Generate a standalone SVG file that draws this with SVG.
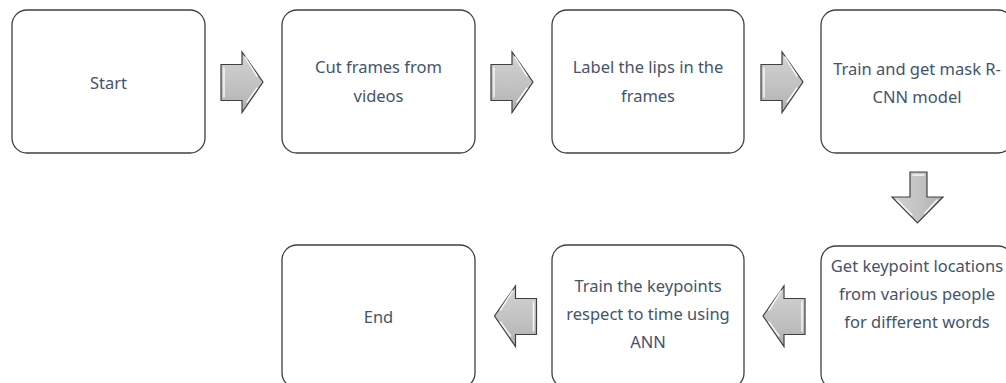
<svg xmlns="http://www.w3.org/2000/svg" width="1006" height="383" viewBox="0 0 1006 383">
<defs>
<linearGradient id="gh" x1="0" y1="0" x2="0" y2="1">
<stop offset="0" stop-color="#d2d2d2"/><stop offset="0.5" stop-color="#c4c4c4"/><stop offset="1" stop-color="#b0b0b0"/>
</linearGradient>
<linearGradient id="gv" x1="0" y1="0" x2="1" y2="0">
<stop offset="0" stop-color="#d2d2d2"/><stop offset="0.5" stop-color="#c4c4c4"/><stop offset="1" stop-color="#b0b0b0"/>
</linearGradient>
<path id="ar" d="M0,12.5 H21 V0 L42,30 L21,60.5 V48.5 H0 Z"/>
</defs>
<style>
.box{fill:#ffffff;stroke:#3f3f3f;stroke-width:1.3}
.t{font-family:"Noto Sans","Open Sans",sans-serif;font-size:16.5px;fill:#44546a;text-anchor:middle}
.arr{fill:url(#gh);stroke:#404040;stroke-width:1.2;stroke-linejoin:miter}
.arrv{fill:url(#gv);stroke:#404040;stroke-width:1.2}
.hl{fill:none;stroke:#ffffff;stroke-width:1.5;stroke-linecap:round;opacity:0.85}
</style>
<g id="connectors">
<g transform="translate(221,52)">
<use href="#ar" class="arr"/>
<path class="hl" d="M3,16 V45 M24,5 L36,24 M36,36 L26,50"/>
</g>
<g transform="translate(491,52)">
<use href="#ar" class="arr"/>
<path class="hl" d="M3,16 V45 M24,5 L36,24 M36,36 L26,50"/>
</g>
<g transform="translate(761,52)">
<use href="#ar" class="arr"/>
<path class="hl" d="M3,16 V45 M24,5 L36,24 M36,36 L26,50"/>
</g>
<g transform="translate(892,172)">
<path class="arrv" d="M18,0 H35 V25 H51 L25.5,51 L0,25 H18 Z"/>
<path class="hl" d="M21,3 H32 M5,28 L20,43 M45,28 L33,41"/>
</g>
<g transform="translate(805,286) scale(-1,1)">
<use href="#ar" class="arr"/>
<path class="hl" d="M3,16 V45 M24,5 L36,24 M36,36 L26,50"/>
</g>
<g transform="translate(536.5,286) scale(-1,1)">
<use href="#ar" class="arr"/>
<path class="hl" d="M3,16 V45 M24,5 L36,24 M36,36 L26,50"/>
</g>
</g>
<g id="start">
<rect class="box" x="12" y="10" width="193" height="143" rx="15"/>
<text class="t" x="108.5" y="89">Start</text>
</g>
<g id="cut">
<rect class="box" x="282" y="10" width="193" height="143" rx="15"/>
<text class="t" x="378.5" y="73">Cut frames from</text>
<text class="t" x="378.5" y="102">videos</text>
</g>
<g id="label">
<rect class="box" x="552" y="10" width="192" height="143" rx="15"/>
<text class="t" x="648" y="73">Label the lips in the</text>
<text class="t" x="648" y="102">frames</text>
</g>
<g id="train-mask">
<rect class="box" x="821" y="10" width="192" height="143" rx="15"/>
<text class="t" x="917" y="75">Train and get mask R-</text>
<text class="t" x="917" y="103">CNN model</text>
</g>
<g id="get-keypoints">
<rect class="box" x="821" y="246" width="192" height="143" rx="15"/>
<text class="t" x="917" y="272">Get keypoint locations</text>
<text class="t" x="917" y="300">from various people</text>
<text class="t" x="917" y="328">for different words</text>
</g>
<g id="train-ann">
<rect class="box" x="552" y="245" width="192" height="143" rx="15"/>
<text class="t" x="648" y="292">Train the keypoints</text>
<text class="t" x="648" y="320">respect to time using</text>
<text class="t" x="648" y="348">ANN</text>
</g>
<g id="end">
<rect class="box" x="282" y="245" width="193" height="143" rx="15"/>
<text class="t" x="378.5" y="323">End</text>
</g>
</svg>
